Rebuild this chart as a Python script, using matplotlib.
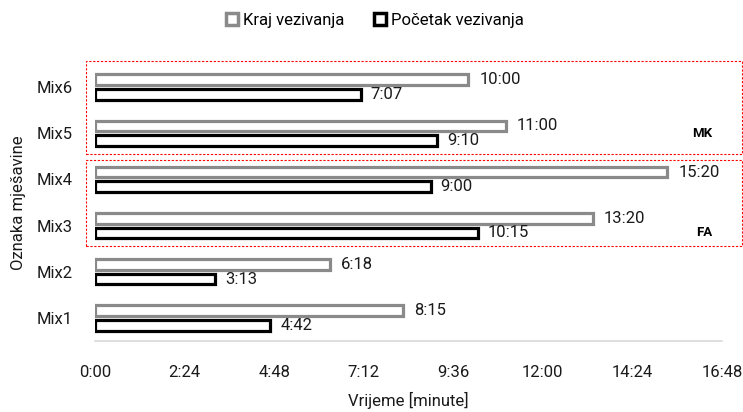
import numpy as np
import matplotlib
matplotlib.use("Agg")
import matplotlib.pyplot as plt
from matplotlib.patches import Patch, Rectangle

plt.rcParams['font.family'] = ['Roboto', 'DejaVu Sans']

# podaci (h:mm)
mixes = ['Mix1', 'Mix2', 'Mix3', 'Mix4', 'Mix5', 'Mix6']
kraj = ['8:15', '6:18', '13:20', '15:20', '11:00', '10:00']
pocetak = ['4:42', '3:13', '10:15', '9:00', '9:10', '7:07']
x_ticks = ['0:00', '2:24', '4:48', '7:12', '9:36', '12:00', '14:24', '16:48']


def to_hours(s):
    h, m = s.split(':')
    return int(h) + int(m) / 60.0


kraj_h = np.array([to_hours(s) for s in kraj])
pocetak_h = np.array([to_hours(s) for s in pocetak])
tick_h = np.array([to_hours(s) for s in x_ticks])

fig = plt.figure(figsize=(7.43, 4.12), dpi=100)
ax = fig.add_axes([0.1279, 0.1723, 0.8438, 0.6724])

y = np.arange(len(mixes))
h = 0.23
off = 0.16
gray = '#8a8a8a'
txt = '#1a1a1a'
fs = 12

ax.barh(y + off, kraj_h, height=h, color='white', edgecolor=gray, linewidth=2.3)
ax.barh(y - off, pocetak_h, height=h, color='white', edgecolor='black', linewidth=2.3)

for yi, v, s in zip(y, kraj_h, kraj):
    ax.annotate(s, (v, yi + off), xytext=(8, 0), textcoords='offset points',
                va='center', ha='left', fontsize=fs, color=txt)
for yi, v, s in zip(y, pocetak_h, pocetak):
    ax.annotate(s, (v, yi - off), xytext=(7, 0), textcoords='offset points',
                va='center', ha='left', fontsize=fs, color=txt)

ax.set_xlim(0, 16.8)
ax.set_ylim(-0.5, 5.5)
ax.set_xticks(tick_h)
ax.set_xticklabels(x_ticks)
ax.set_yticks(y)
ax.set_yticklabels(mixes)
ax.tick_params(axis='both', length=0, labelsize=fs, colors=txt)
ax.tick_params(axis='x', pad=17)
ax.tick_params(axis='y', pad=16)

for side in ['top', 'right', 'left']:
    ax.spines[side].set_visible(False)
ax.spines['bottom'].set_color('#d9d9d9')
ax.spines['bottom'].set_linewidth(1.2)

ax.set_xlabel('Vrijeme [minute]', fontsize=fs, color=txt, labelpad=9)
ax.set_ylabel('Oznaka mješavine', fontsize=fs, color=txt, labelpad=8)

# crveni okviri za grupe MK i FA
for (y0, y1) in [(3.55, 5.56), (1.55, 3.41)]:
    r = Rectangle((-0.24, y0), 17.58, y1 - y0, fill=False, edgecolor='red',
                  linestyle=(0, (2, 1.5)), linewidth=0.8, clip_on=False)
    ax.add_patch(r)

ax.text(16.26, 4.0, 'MK', fontsize=9.5, fontweight='bold', ha='center', va='center')
ax.text(16.33, 1.86, 'FA', fontsize=9.5, fontweight='bold', ha='center', va='center')

handles = [Patch(facecolor='white', edgecolor=gray, linewidth=2.5, label='Kraj vezivanja'),
           Patch(facecolor='white', edgecolor='black', linewidth=2.5, label='Početak vezivanja')]
fig.legend(handles=handles, loc='center', bbox_to_anchor=(0.505, 0.951), ncol=2,
           frameon=False, fontsize=fs, handlelength=0.7, handleheight=0.7,
           handletextpad=0.3, columnspacing=1.8)

fig.savefig('out.png', dpi=100)
